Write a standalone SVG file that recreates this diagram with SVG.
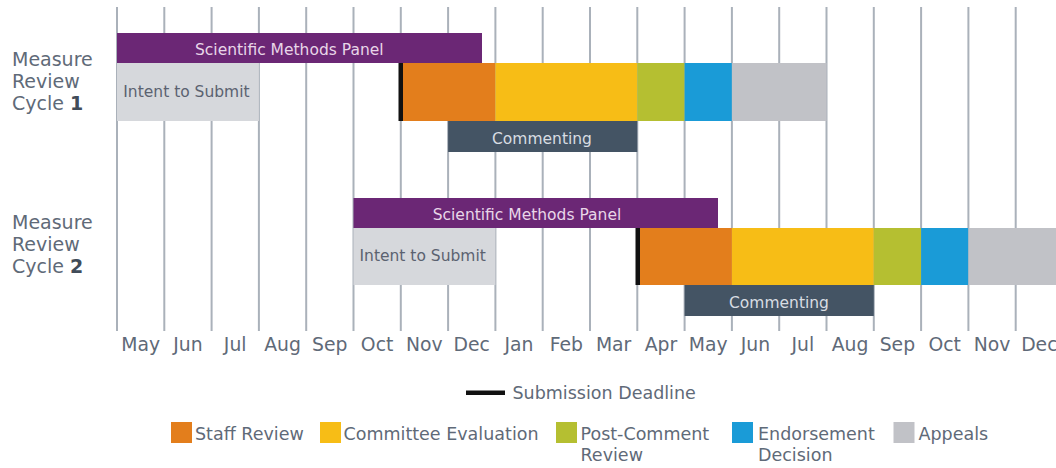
<svg xmlns="http://www.w3.org/2000/svg" width="1056" height="468" viewBox="0 0 1056 468">
<style>
  text { font-family: "DejaVu Sans", "Open Sans", sans-serif; }
  .grid line { stroke: #aab1ba; stroke-width: 2; }
  .cyc { font-size: 19px; fill: #5f6a78; }
  .cyc .b { font-weight: bold; fill: #414c59; }
  .mon { font-size: 18.8px; fill: #5f6a78; text-anchor: middle; }
  .bt { font-size: 15.5px; }
  .smp { fill: #6b2775; }
  .smpt { fill: #e8d6e8; }
  .int { fill: #d6d8dc; }
  .intt { fill: #5b6270; }
  .dl { fill: #111111; }
  .staff { fill: #e37e1c; }
  .comm { fill: #f7bd16; }
  .post { fill: #b5bf31; }
  .endo { fill: #1a9bd7; }
  .app { fill: #c1c2c7; }
  .cmt { fill: #445464; }
  .cmtt { fill: #d8dde2; text-anchor: middle; }
  .lg { font-size: 17.5px; fill: #5f6a78; }
</style>
<rect width="1056" height="468" fill="#ffffff"/>
<g id="grid" class="grid">
  <line x1="117" y1="7" x2="117" y2="331"/>
  <line x1="164.3" y1="7" x2="164.3" y2="331"/>
  <line x1="211.6" y1="7" x2="211.6" y2="331"/>
  <line x1="258.9" y1="7" x2="258.9" y2="331"/>
  <line x1="306.2" y1="7" x2="306.2" y2="331"/>
  <line x1="353.5" y1="7" x2="353.5" y2="331"/>
  <line x1="400.8" y1="7" x2="400.8" y2="331"/>
  <line x1="448.1" y1="7" x2="448.1" y2="331"/>
  <line x1="495.4" y1="7" x2="495.4" y2="331"/>
  <line x1="542.7" y1="7" x2="542.7" y2="331"/>
  <line x1="590" y1="7" x2="590" y2="331"/>
  <line x1="637.3" y1="7" x2="637.3" y2="331"/>
  <line x1="684.6" y1="7" x2="684.6" y2="331"/>
  <line x1="731.9" y1="7" x2="731.9" y2="331"/>
  <line x1="779.2" y1="7" x2="779.2" y2="331"/>
  <line x1="826.5" y1="7" x2="826.5" y2="331"/>
  <line x1="873.8" y1="7" x2="873.8" y2="331"/>
  <line x1="921.1" y1="7" x2="921.1" y2="331"/>
  <line x1="968.4" y1="7" x2="968.4" y2="331"/>
  <line x1="1015.7" y1="7" x2="1015.7" y2="331"/>
</g>
<g id="months" class="mon">
  <text x="140.6" y="351">May</text>
  <text x="187.9" y="351">Jun</text>
  <text x="235.2" y="351">Jul</text>
  <text x="282.5" y="351">Aug</text>
  <text x="329.8" y="351">Sep</text>
  <text x="377.1" y="351">Oct</text>
  <text x="424.4" y="351">Nov</text>
  <text x="471.7" y="351">Dec</text>
  <text x="519" y="351">Jan</text>
  <text x="566.3" y="351">Feb</text>
  <text x="613.6" y="351">Mar</text>
  <text x="660.9" y="351">Apr</text>
  <text x="708.2" y="351">May</text>
  <text x="755.5" y="351">Jun</text>
  <text x="802.8" y="351">Jul</text>
  <text x="850.1" y="351">Aug</text>
  <text x="897.4" y="351">Sep</text>
  <text x="944.7" y="351">Oct</text>
  <text x="992" y="351">Nov</text>
  <text x="1039.3" y="351">Dec</text>
</g>
<g id="cycle1-label" class="cyc">
  <text x="12" y="66">Measure</text>
  <text x="12" y="88">Review</text>
  <text x="12" y="110">Cycle <tspan class="b">1</tspan></text>
</g>
<g id="cycle2-label" class="cyc">
  <text x="12" y="229">Measure</text>
  <text x="12" y="251">Review</text>
  <text x="12" y="273">Cycle <tspan class="b">2</tspan></text>
</g>
<g id="c1-smp">
  <rect class="smp" x="117" y="33" width="365" height="30"/>
  <text class="bt smpt" x="195" y="54.5">Scientific Methods Panel</text>
</g>
<g id="c1-intent">
  <rect class="int" x="117" y="63" width="141.9" height="58"/>
  <text class="bt intt" x="123.3" y="96.5">Intent to Submit</text>
</g>
<g id="c1-staff"><rect class="staff" x="403" y="63" width="92.4" height="58"/></g>
<g id="c1-committee"><rect class="comm" x="495.4" y="63" width="141.9" height="58"/></g>
<g id="c1-post"><rect class="post" x="637.3" y="63" width="47.3" height="58"/></g>
<g id="c1-endorse"><rect class="endo" x="684.6" y="63" width="47.3" height="58"/></g>
<g id="c1-appeals"><rect class="app" x="731.9" y="63" width="94.6" height="58"/></g>
<g id="c1-deadline"><rect class="dl" x="398.5" y="63" width="4.5" height="58"/></g>
<g id="c1-commenting">
  <rect class="cmt" x="448.1" y="121" width="189.2" height="31"/>
  <text class="bt cmtt" x="542" y="144">Commenting</text>
</g>
<g id="c2-smp">
  <rect class="smp" x="353.5" y="198" width="364.5" height="30"/>
  <text class="bt smpt" x="432.7" y="220">Scientific Methods Panel</text>
</g>
<g id="c2-intent">
  <rect class="int" x="353.5" y="228" width="141.9" height="57"/>
  <text class="bt intt" x="359.5" y="260.5">Intent to Submit</text>
</g>
<g id="c2-staff"><rect class="staff" x="640" y="228" width="91.9" height="57"/></g>
<g id="c2-committee"><rect class="comm" x="731.9" y="228" width="141.9" height="57"/></g>
<g id="c2-post"><rect class="post" x="873.8" y="228" width="47.3" height="57"/></g>
<g id="c2-endorse"><rect class="endo" x="921.1" y="228" width="47.3" height="57"/></g>
<g id="c2-appeals"><rect class="app" x="968.4" y="228" width="88" height="57"/></g>
<g id="c2-deadline"><rect class="dl" x="635.5" y="228" width="4.5" height="57"/></g>
<g id="c2-commenting">
  <rect class="cmt" x="684.6" y="285" width="189.2" height="31"/>
  <text class="bt cmtt" x="779" y="308.3">Commenting</text>
</g>
<g id="legend">
  <rect class="dl" x="466" y="390.5" width="39" height="4.5"/>
  <text class="lg" x="512.5" y="399">Submission Deadline</text>
  <rect class="staff" x="171" y="422" width="21" height="21"/>
  <text class="lg" x="195" y="440">Staff Review</text>
  <rect class="comm" x="320" y="422" width="21" height="21"/>
  <text class="lg" x="343.5" y="440">Committee Evaluation</text>
  <rect class="post" x="556" y="422" width="21" height="21"/>
  <text class="lg" x="580.5" y="440">Post-Comment</text>
  <text class="lg" x="580.5" y="460.5">Review</text>
  <rect class="endo" x="732" y="422" width="21" height="21"/>
  <text class="lg" x="758" y="440">Endorsement</text>
  <text class="lg" x="758" y="460.5">Decision</text>
  <rect class="app" x="893.5" y="422" width="21" height="21"/>
  <text class="lg" x="918.5" y="440">Appeals</text>
</g>
</svg>
